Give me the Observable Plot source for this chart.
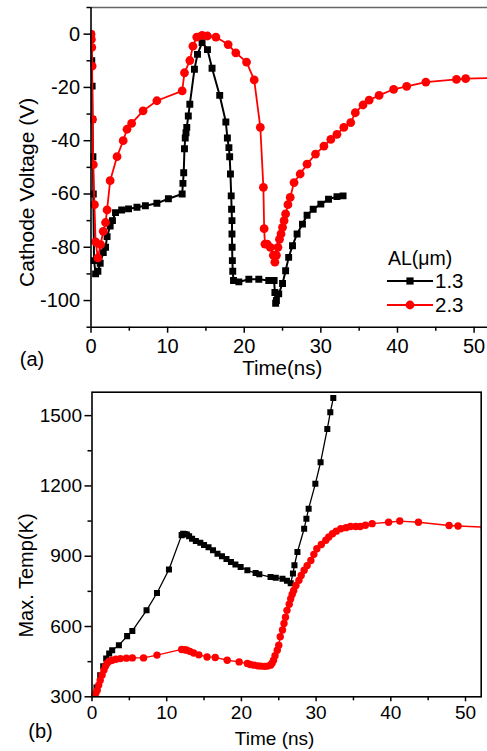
<!DOCTYPE html>
<html>
<head>
<meta charset="utf-8">
<script src="https://cdn.jsdelivr.net/npm/d3@7"></script>
<script src="https://cdn.jsdelivr.net/npm/@observablehq/plot@0.6"></script>
<style>
  body { margin: 0; background: #fff; }
  #wrap { position: relative; width: 487px; height: 751px; overflow: hidden; font-family: "Liberation Sans", Arial, sans-serif; }
  #wrap svg { display: block; }
  #legend { position: absolute; left: 0; top: 0; }
</style>
</head>
<body>
<div id="wrap"></div>
<script>
// ---------- Panel (a): Cathode Voltage (V) vs Time (ns) ----------
const timeA13 = [0, 0.1, 0.15, 0.2, 0.25, 0.3, 0.4, 0.6, 0.9, 1.2, 1.6, 1.9, 2.1, 2.5, 2.8, 3.2, 4.0, 4.9, 6.0, 7.1, 8.6, 10.1, 11.9, 12.0, 12.1, 12.2, 12.3, 12.4, 12.5, 12.7, 12.9, 13.5, 13.9, 14.5, 15.2, 15.8, 16.8, 17.6, 17.8, 18.0, 18.1, 18.2, 18.3, 18.35, 18.4, 18.4, 18.42, 18.45, 18.5, 18.6, 19.3, 20.6, 21.9, 23.2, 23.9, 24.0, 24.1, 24.2, 24.5, 25.0, 25.4, 25.8, 26.3, 26.9, 27.6, 28.2, 29.0, 30.0, 31.0, 32.1, 32.9];
const voltA13 = [0, -10, -19.5, -32, -46, -60, -85, -90, -89, -86, -82, -80, -76, -72, -70, -67, -66, -65.6, -65, -64.4, -63.5, -61.8, -60, -56, -52, -43, -39, -37, -35, -30.7, -26.3, -13.2, -7.6, -3.2, -5.8, -12.8, -23, -33, -39, -42.6, -46, -52.5, -60.7, -65.7, -70, -75, -80, -85, -89, -92.5, -93, -92, -92, -92.5, -92.5, -97, -101, -100, -97.5, -93.6, -88.8, -83.8, -79.4, -75, -71.3, -68, -65.7, -63.8, -62, -61, -60.7];

const timeA23 = [0, 0.05, 0.1, 0.15, 0.2, 0.3, 0.45, 0.6, 0.9, 1.25, 1.6, 1.9, 2.1, 2.5, 3.4, 4.2, 4.7, 5.3, 6.8, 8.6, 11.9, 12.2, 12.9, 13.3, 13.8, 14.5, 15.2, 16.3, 17.9, 18.9, 20.3, 21.3, 22.1, 22.5, 22.6, 22.7, 23.0, 23.4, 23.8, 24.0, 24.2, 24.4, 24.6, 24.8, 25.0, 25.2, 25.4, 25.7, 26.0, 26.5, 27.3, 28.2, 29.3, 30.4, 31.3, 32.1, 33.0, 33.9, 34.5, 35.5, 36.3, 37.6, 39.5, 41.2, 43.7, 47.7, 48.9, 52.5];
const voltA23 = [0, -2, -5, -12, -32, -49, -64, -78, -84, -79, -74, -70.7, -66, -55, -46, -40, -35.7, -33.5, -28.8, -25, -21.3, -14.5, -9.9, -4.5, -1.1, -0.5, -0.7, -1.1, -3.9, -7, -10.5, -17.2, -35, -57.5, -73, -78.8, -78.8, -80, -83, -85.6, -83, -80, -77, -75, -72.5, -70, -67.5, -64, -61.3, -55.7, -52.5, -48.8, -45, -42, -39.5, -37.6, -35, -33.2, -29.5, -26.6, -24.8, -23, -20.7, -19.6, -18, -17, -16.7, -16.5];

const xTicksA = [0, 10, 20, 30, 40, 50];
const xMinorA = [5, 15, 25, 35, 45];
const yTicksA = [0, -20, -40, -60, -80, -100];
const yMinorA = [10, -10, -30, -50, -70, -90, -110];

// ---------- Panel (b): Max. Temp (K) vs Time (ns) ----------
const timeB13 = [0.2, 0.6, 1.1, 1.5, 1.9, 2.3, 2.7, 3.6, 4.7, 5.4, 7.3, 8.7, 10.3, 12.0, 12.2, 12.4, 12.7, 13.0, 13.4, 13.9, 14.5, 15.0, 15.6, 16.2, 16.8, 17.4, 18.0, 18.6, 19.2, 19.9, 20.8, 21.9, 22.4, 23.9, 24.6, 25.5, 26.1, 26.6, 26.9, 27.1, 27.5, 28.4, 28.7, 29.0, 29.9, 30.6, 31.5, 31.9, 32.3];
const tempB13 = [300, 340, 392, 430, 463, 485, 499, 520, 559, 581, 669, 743, 843, 990, 996, 995, 993, 985, 975, 965, 957, 948, 938, 925, 911, 900, 888, 875, 865, 854, 840, 828, 823, 811, 808, 804, 795, 785, 826, 861, 918, 1017, 1060, 1103, 1209, 1301, 1443, 1514, 1575];

const timeB23 = [0.2, 0.5, 0.7, 0.9, 1.1, 1.35, 1.6, 1.8, 2.0, 2.3, 2.7, 3.2, 3.8, 4.6, 5.4, 6.9, 8.7, 12.0, 12.4, 12.7, 13.1, 13.6, 14.3, 15.4, 16.5, 18.1, 19.7, 20.8, 21.2, 21.7, 22.2, 22.6, 23.1, 23.5, 23.9, 24.1, 24.3, 24.5, 24.8, 25.0, 25.2, 25.5, 25.7, 25.9, 26.1, 26.4, 26.6, 26.8, 27.0, 27.3, 27.7, 28.0, 28.4, 28.8, 29.3, 29.7, 30.1, 30.7, 31.3, 31.7, 32.2, 32.7, 33.3, 34.0, 34.6, 35.3, 35.9, 36.6, 37.5, 39.7, 41.2, 43.7, 47.8, 49.0, 52.5];
const tempB23 = [300, 315, 328, 350, 371, 393, 414, 430, 442, 452, 456, 460, 463, 465, 466, 466, 478, 502, 501, 499, 494, 487, 479, 470, 468, 456, 449, 442, 438, 435, 432, 431, 430, 431, 435, 443, 456, 475, 499, 520, 556, 585, 613, 640, 669, 695, 719, 738, 754, 775, 797, 818, 840, 860, 882, 908, 932, 950, 968, 982, 996, 1007, 1017, 1022, 1027, 1027, 1027, 1032, 1039, 1045, 1050, 1045, 1031, 1029, 1024];

const xTicksB = [0, 10, 20, 30, 40, 50];
const xMinorB = [5, 15, 25, 35, 45];
const yTicksB = [300, 600, 900, 1200, 1500];
const yMinorB = [450, 750, 1050, 1350];

// ---------- Labels ----------
const seriesLabels = ["1.3", "2.3"];
const legendTitle = "AL(\u03BCm)";
const labelsA = { y: "Cathode Voltage (V)", x: "Time(ns)", tag: "(a)" };
const labelsB = { y: "Max. Temp(K)", x: "Time (ns)", tag: "(b)" };

const RED = "#ff0000";
const FONT = '"Liberation Sans", Arial, sans-serif';
const plain = d => String(d);
const rows = (t, v) => t.map((x, i) => ({ t: x, v: v[i] }));
const centered = { textAnchor: "middle", lineAnchor: "middle" };

const panelA = Plot.plot({
  width: 487, height: 380,
  marginLeft: 90.5, marginRight: 0, marginTop: 7, marginBottom: 53.3,
  style: { fontFamily: FONT, background: "transparent", color: "black" },
  x: { domain: [0, 51.75] },
  y: { domain: [-110, 10] },
  marks: [
    Plot.ruleY([10], { stroke: "#666", strokeWidth: 1.6 }),
    Plot.line(rows(timeA13, voltA13), { x: "t", y: "v", stroke: "black", strokeWidth: 2, clip: true }),
    Plot.dot(rows(timeA13, voltA13), { x: "t", y: "v", symbol: "square", fill: "black", r: 3.9, clip: true }),
    Plot.line(rows(timeA23, voltA23), { x: "t", y: "v", stroke: RED, strokeWidth: 1.8, clip: true }),
    Plot.dot(rows(timeA23, voltA23), { x: "t", y: "v", fill: RED, r: 4.4, clip: true }),
    Plot.ruleX([0], { stroke: "black", strokeWidth: 1.6 }),
    Plot.ruleY([-110], { stroke: "black", strokeWidth: 1.6 }),
    Plot.axisX({ ticks: xTicksA, tickSize: 6, tickPadding: 6, fontSize: 20, tickFormat: plain, label: null, strokeWidth: 1.5 }),
    Plot.axisX({ ticks: xMinorA, tickSize: 4, tickFormat: () => "", label: null, strokeWidth: 1.5 }),
    Plot.axisY({ ticks: yTicksA, tickSize: 7, tickPadding: 4, fontSize: 20, tickFormat: plain, label: null, strokeWidth: 1.5 }),
    Plot.axisY({ ticks: yMinorA, tickSize: 4, tickFormat: () => "", label: null, strokeWidth: 1.5 }),
    Plot.text([labelsA.y], { text: d => d, frameAnchor: "left", dx: -63.5, dy: 25, rotate: -90, fontSize: 21, ...centered }),
    Plot.text([labelsA.x], { text: d => d, frameAnchor: "bottom", dx: -7, dy: 41, fontSize: 20.5, ...centered }),
    Plot.text([labelsA.tag], { text: d => d, frameAnchor: "bottom-left", dx: -59, dy: 32, fontSize: 20, ...centered })
  ]
});

const panelB = Plot.plot({
  width: 487, height: 371,
  marginLeft: 91.5, marginRight: 6.3, marginTop: 11.7, marginBottom: 54.7,
  style: { fontFamily: FONT, background: "transparent", color: "black" },
  x: { domain: [0, 52.1] },
  y: { domain: [300, 1600] },
  marks: [
    Plot.line(rows(timeB13, tempB13), { x: "t", y: "v", stroke: "black", strokeWidth: 1.3, clip: true }),
    Plot.dot(rows(timeB13, tempB13), { x: "t", y: "v", symbol: "square", fill: "black", r: 3.4, clip: true }),
    Plot.line(rows(timeB23, tempB23), { x: "t", y: "v", stroke: RED, strokeWidth: 1.3, clip: true }),
    Plot.dot(rows(timeB23, tempB23), { x: "t", y: "v", fill: RED, r: 3.7, clip: true }),
    Plot.frame({ stroke: "black", strokeWidth: 1.6 }),
    Plot.axisX({ ticks: xTicksB, tickSize: 5, tickPadding: 4, fontSize: 19, tickFormat: plain, label: null, strokeWidth: 1.5 }),
    Plot.axisX({ ticks: xMinorB, tickSize: 4, tickFormat: () => "", label: null, strokeWidth: 1.5 }),
    Plot.axisY({ ticks: yTicksB, tickSize: 7, tickPadding: 3, fontSize: 19, tickFormat: plain, label: null, strokeWidth: 1.5 }),
    Plot.axisY({ ticks: yMinorB, tickSize: 4, tickFormat: () => "", label: null, strokeWidth: 1.5 }),
    Plot.text([labelsB.y], { text: d => d, frameAnchor: "left", dx: -65.5, dy: 31, rotate: -90, fontSize: 20, ...centered }),
    Plot.text([labelsB.x], { text: d => d, frameAnchor: "bottom", dx: -12, dy: 42, fontSize: 19, ...centered }),
    Plot.text([labelsB.tag], { text: d => d, frameAnchor: "bottom-left", dx: -51.5, dy: 35, fontSize: 20, ...centered })
  ]
});

const wrap = document.getElementById("wrap");
wrap.appendChild(panelA);
wrap.appendChild(panelB);

// legend (panel a)
const lg = d3.select(wrap).append("svg").attr("id", "legend")
  .attr("width", 487).attr("height", 380)
  .style("font-family", FONT);
lg.append("text").attr("x", 388).attr("y", 258).attr("dy", "0.35em")
  .attr("font-size", 19.5).text(legendTitle);
const legendItems = [
  { label: seriesLabels[0], color: "black", sym: "square", y: 281 },
  { label: seriesLabels[1], color: RED, sym: "circle", y: 305 }
];
legendItems.forEach(it => {
  lg.append("line").attr("x1", 387).attr("x2", 433).attr("y1", it.y).attr("y2", it.y)
    .attr("stroke", it.color).attr("stroke-width", 2);
  if (it.sym === "square") {
    lg.append("rect").attr("x", 410 - 3.6).attr("y", it.y - 3.6).attr("width", 7.2).attr("height", 7.2).attr("fill", it.color);
  } else {
    lg.append("circle").attr("cx", 410).attr("cy", it.y).attr("r", 4.4).attr("fill", it.color);
  }
  lg.append("text").attr("x", 435).attr("y", it.y).attr("dy", "0.35em")
    .attr("font-size", 20.5).text(it.label);
});
</script>
</body>
</html>
